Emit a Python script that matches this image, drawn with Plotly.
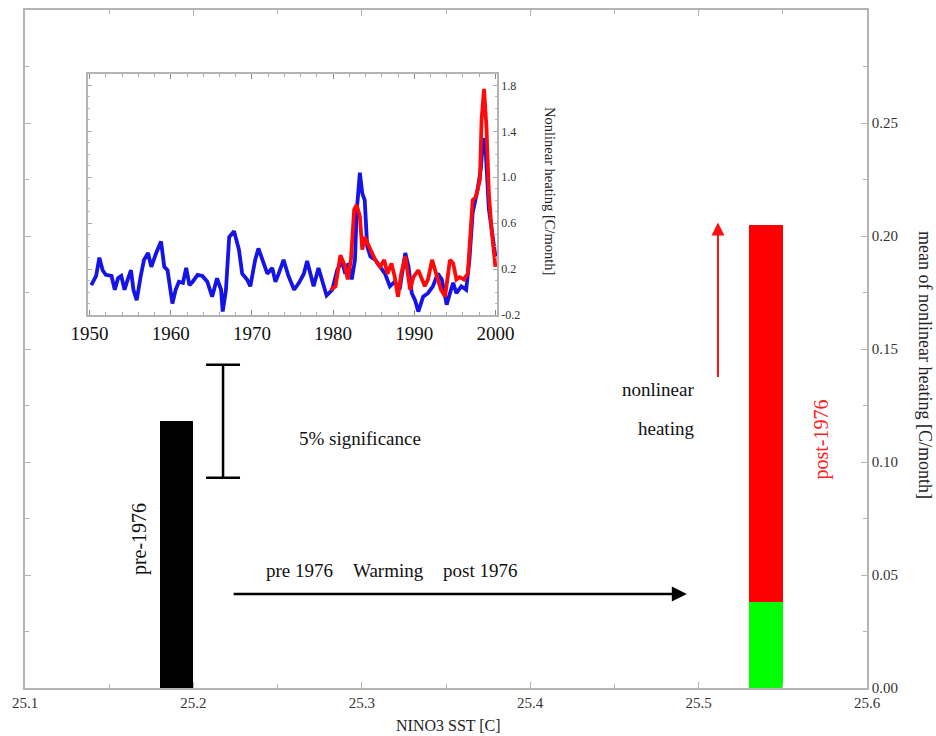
import plotly.graph_objects as go

# ---------------- main chart data ----------------
bar_x = [25.19, 25.54, 25.54]
bar_vals = [0.118, 0.038, 0.167]          # pre-1976 mean, post-1976 linear part, post-1976 nonlinear part
bar_colors = ["#000000", "#00ff00", "#ff0000"]
sig_x = [25.2176]
sig_y = [0.118]
sig_err = [0.025]
x_ticks = [25.1, 25.2, 25.3, 25.4, 25.5, 25.6]
y_ticks = [0.00, 0.05, 0.10, 0.15, 0.20, 0.25]

# ---------------- inset data ----------------
blue_years = [1950.2, 1950.8, 1951.2, 1951.6, 1952.0, 1952.7, 1953.1, 1953.5, 1953.9, 1954.3,
              1954.7, 1955.1, 1955.4, 1955.8, 1956.3, 1956.7, 1957.2, 1957.6, 1958.2, 1958.8,
              1959.2, 1959.6, 1960.2, 1960.6, 1961.0, 1961.5, 1961.9, 1962.3, 1962.7, 1963.3,
              1963.9, 1964.5, 1965.1, 1965.7, 1966.2, 1966.4, 1966.8, 1967.2, 1967.8, 1968.4,
              1968.8, 1969.4, 1969.8, 1970.4, 1970.8, 1971.3, 1971.9, 1972.5, 1972.9, 1973.3,
              1973.9, 1974.5, 1975.2, 1975.8, 1976.4, 1976.8, 1977.2, 1977.6, 1978.2, 1978.6,
              1979.2, 1979.9, 1980.5, 1981.1, 1981.5, 1981.9, 1982.3, 1982.7, 1982.9, 1983.3,
              1983.6, 1983.9, 1984.2, 1984.6, 1985.2, 1985.8, 1986.4, 1987.0, 1987.6, 1988.2,
              1988.9, 1989.3, 1989.7, 1990.1, 1990.5, 1991.1, 1991.7, 1992.3, 1992.9, 1993.4,
              1994.0, 1994.4, 1994.8, 1995.2, 1995.8, 1996.4, 1996.8, 1997.2, 1997.8, 1998.2,
              1998.5, 1998.8, 1999.2, 1999.5, 2000.0]
blue_vals = [0.06, 0.14, 0.30, 0.19, 0.15, 0.14, 0.02, 0.12, 0.14, 0.02,
             0.11, 0.19, 0.02, -0.07, 0.14, 0.28, 0.34, 0.22, 0.34, 0.44,
             0.22, 0.19, -0.10, 0.02, 0.09, 0.08, 0.21, 0.06, 0.09, 0.15,
             0.14, 0.09, -0.04, 0.12, 0.02, -0.17, 0.02, 0.48, 0.53, 0.37,
             0.16, 0.11, 0.05, 0.28, 0.38, 0.28, 0.16, 0.21, 0.09, 0.16,
             0.28, 0.14, 0.02, 0.08, 0.16, 0.27, 0.16, 0.05, 0.21, 0.11,
             -0.03, 0.02, 0.19, 0.27, 0.16, 0.25, 0.11, 0.28, 0.69, 1.04,
             0.86, 0.80, 0.40, 0.31, 0.28, 0.22, 0.16, 0.05, 0.09, 0.02,
             0.34, 0.22, -0.01, -0.07, -0.17, -0.04, -0.01, 0.05, 0.16, 0.11,
             -0.11, -0.01, 0.08, -0.01, 0.05, 0.02, 0.28, 0.69, 0.89, 1.07,
             1.34, 1.24, 0.72, 0.57, 0.31]

red_years = [1979.7, 1980.3, 1980.9, 1981.5, 1981.8, 1982.2, 1982.6, 1982.9, 1983.3, 1983.6,
             1983.9, 1984.6, 1985.2, 1985.8, 1986.3, 1986.7, 1987.2, 1987.6, 1988.0, 1988.4,
             1988.9, 1989.5, 1989.9, 1990.5, 1990.9, 1991.3, 1991.7, 1992.2, 1992.7, 1993.3,
             1993.8, 1994.4, 1994.8, 1995.2, 1995.6, 1996.1, 1996.6, 1997.2, 1997.6, 1998.1,
             1998.3, 1998.6, 1998.9, 1999.2, 1999.5, 2000.0]
red_vals = [0.02, 0.05, 0.32, 0.22, 0.11, 0.28, 0.72, 0.76, 0.66, 0.37,
            0.48, 0.37, 0.28, 0.22, 0.28, 0.16, 0.25, 0.13, -0.04, 0.16,
            0.31, 0.02, 0.13, 0.19, 0.11, 0.05, 0.11, 0.28, 0.16, 0.02,
            -0.04, 0.28, 0.25, 0.11, 0.13, 0.11, 0.16, 0.80, 0.83, 0.98,
            1.50, 1.77, 1.44, 0.86, 0.57, 0.22]
inset_x_ticks = [1950, 1960, 1970, 1980, 1990, 2000]
inset_y_ticks = [-0.2, 0.2, 0.6, 1.0, 1.4, 1.8]

SERIF = "Liberation Serif"
FRAME = "#b4b4b4"

fig = go.Figure()

fig.add_trace(go.Bar(x=bar_x, y=bar_vals, width=0.02, marker=dict(color=bar_colors, line=dict(width=0)),
                     xaxis="x", yaxis="y", showlegend=False, hoverinfo="skip"))
fig.add_trace(go.Scatter(x=sig_x, y=sig_y, mode="markers", marker=dict(size=1, color="rgba(0,0,0,0)"),
                         error_y=dict(type="data", array=sig_err, visible=True, color="black",
                                      thickness=2.5, width=17),
                         xaxis="x", yaxis="y", showlegend=False, hoverinfo="skip"))

fig.add_trace(go.Scatter(x=blue_years, y=blue_vals, mode="lines", line=dict(color="#1414e6", width=3.8),
                         xaxis="x2", yaxis="y2", showlegend=False))
fig.add_trace(go.Scatter(x=red_years, y=red_vals, mode="lines", line=dict(color="#ff0a0a", width=3.8),
                         xaxis="x2", yaxis="y2", showlegend=False))

main_y0, main_y1 = 1 - 688 / 736, 1 - 10 / 736
main_x0, main_x1 = 25 / 936, 867 / 936
ins_x0, ins_x1 = 88 / 936, 497 / 936
ins_y0, ins_y1 = 1 - 315 / 736, 1 - 74 / 736

fig.update_layout(
    width=936, height=736, margin=dict(l=0, r=0, t=0, b=0, autoexpand=False),
    paper_bgcolor="white", plot_bgcolor="white",
    barmode="stack", bargap=0,
    font=dict(family=SERIF, color="#222"),
    xaxis=dict(domain=[main_x0, main_x1], range=[25.1, 25.6], tickvals=x_ticks, automargin=False,
               ticktext=[f"{v:.1f}" for v in x_ticks], showgrid=False, zeroline=False,
               showline=True, linecolor=FRAME, linewidth=1.5, mirror="allticks",
               ticks="inside", ticklen=6, tickcolor=FRAME,
               minor=dict(dtick=0.05, ticks="inside", ticklen=4, tickcolor=FRAME),
               tickfont=dict(family=SERIF, size=15, color="#333"), anchor="y"),
    yaxis=dict(domain=[main_y0, main_y1], range=[0, 0.3], tickvals=y_ticks, automargin=False,
               ticktext=[f"{v:.2f}" for v in y_ticks], side="right", showgrid=False, zeroline=False,
               showline=True, linecolor=FRAME, linewidth=1.5, mirror="allticks",
               ticks="inside", ticklen=6, tickcolor=FRAME,
               minor=dict(dtick=0.025, ticks="inside", ticklen=4, tickcolor=FRAME),
               tickfont=dict(family=SERIF, size=15, color="#333"), anchor="x"),
    xaxis2=dict(domain=[ins_x0, ins_x1], range=[1949.8, 2000.2], tickvals=inset_x_ticks, automargin=False,
                showgrid=False, zeroline=False, showline=True, linecolor=FRAME, linewidth=1.5,
                mirror="allticks", ticks="inside", ticklen=5, tickcolor="#888",
                minor=dict(dtick=2, ticks="inside", ticklen=3, tickcolor="#aaa"),
                tickfont=dict(family=SERIF, size=19, color="#111"), anchor="y2"),
    yaxis2=dict(domain=[ins_y0, ins_y1], range=[-0.2, 1.9], tickvals=inset_y_ticks, automargin=False,
                ticktext=[f"{v:.1f}" for v in inset_y_ticks], side="right",
                showgrid=False, zeroline=False, showline=True, linecolor=FRAME, linewidth=1.5,
                mirror="allticks", ticks="inside", ticklen=4, tickcolor="#aaa",
                minor=dict(dtick=0.1, ticks="inside", ticklen=2, tickcolor="#bbb"),
                tickfont=dict(family=SERIF, size=12, color="#333"), anchor="x2"),
)

# inset white background
fig.add_shape(type="rect", xref="paper", yref="paper", x0=ins_x0, x1=ins_x1, y0=ins_y0, y1=ins_y1,
              fillcolor="white", line=dict(width=0), layer="below")

ann = []
# arrows
ann.append(dict(x=25.493, y=0.0416, ax=25.223, ay=0.0416, xref="x", yref="y", axref="x", ayref="y",
                text="", showarrow=True, arrowhead=2, arrowsize=1.2, arrowwidth=2.5, arrowcolor="black"))
ann.append(dict(x=25.5115, y=0.206, ax=25.5115, ay=0.137, xref="x", yref="y", axref="x", ayref="y",
                text="", showarrow=True, arrowhead=2, arrowsize=1.3, arrowwidth=2, arrowcolor="#ff1010"))
# texts
def txt(x, y, s, size=19, color="#111", angle=0, xanchor="center"):
    return dict(x=x, y=y, xref="x", yref="y", text=s, showarrow=False, textangle=angle,
                xanchor=xanchor, yanchor="middle", font=dict(family=SERIF, size=size, color=color))

ann.append(txt(25.263, 0.0518, "pre 1976"))
ann.append(txt(25.3156, 0.0518, "Warming"))
ann.append(txt(25.370, 0.0518, "post 1976"))
ann.append(txt(25.299, 0.1106, "5% significance"))
ann.append(txt(25.4985, 0.132, "nonlinear", xanchor="right"))
ann.append(txt(25.4985, 0.115, "heating", xanchor="right"))
ann.append(txt(25.1677, 0.0659, "pre-1976", size=20, angle=-90))
ann.append(txt(25.573, 0.1097, "post-1976", size=20, color="#ff2020", angle=-90))
# axis titles
ann.append(dict(x=448 / 936, y=1 - 725 / 736, xref="paper", yref="paper", text="NINO3 SST [C]",
                showarrow=False, xanchor="center", yanchor="middle",
                font=dict(family=SERIF, size=16, color="#222")))
ann.append(dict(x=925 / 936, y=1 - 365 / 736, xref="paper", yref="paper",
                text="mean of nonlinear heating [C/month]", textangle=90,
                showarrow=False, xanchor="center", yanchor="middle",
                font=dict(family=SERIF, size=18, color="#222")))
ann.append(dict(x=550 / 936, y=1 - 191 / 736, xref="paper", yref="paper",
                text="Nonlinear heating [C/month]", textangle=90,
                showarrow=False, xanchor="center", yanchor="middle",
                font=dict(family=SERIF, size=14.5, color="#222")))
fig.update_layout(annotations=ann)

fig.write_html("out.html", config={"displayModeBar": False},
               post_script="document.body.style.margin='0px';document.body.style.overflow='hidden';")
